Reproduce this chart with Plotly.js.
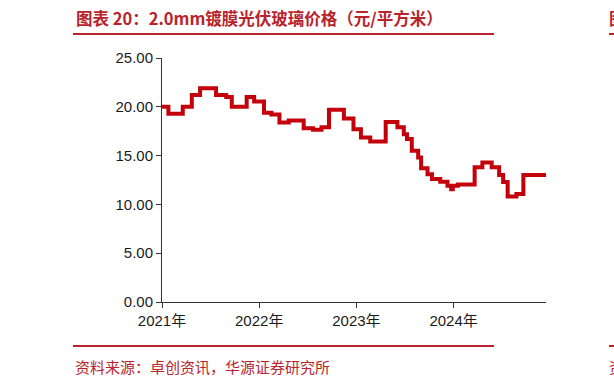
<!DOCTYPE html>
<html>
<head>
<meta charset="utf-8">
<script src="https://cdn.plot.ly/plotly-3.0.1.min.js"></script>
<style>
html,body{margin:0;padding:0;background:#fff;}
#chart{width:614px;height:385px;}
</style>
</head>
<body>
<div id="chart"></div>
<script>
// Price change dates (step series) and values, 元/平方米
const dates = [
  "2021-01-01","2021-01-25","2021-03-20","2021-04-23","2021-05-24","2021-07-23",
  "2021-08-30","2021-09-20","2021-11-15","2021-12-13","2022-01-19","2022-02-16",
  "2022-03-18","2022-04-22","2022-06-17","2022-07-22","2022-08-23","2022-09-20",
  "2022-11-15","2022-12-21","2023-01-18","2023-02-22","2023-04-21","2023-06-04",
  "2023-06-28","2023-07-10","2023-07-28","2023-08-21","2023-09-01","2023-09-25",
  "2023-10-12","2023-11-12","2023-12-09","2023-12-23","2023-12-29","2024-01-17",
  "2024-03-20","2024-04-18","2024-05-23","2024-06-20","2024-07-05","2024-07-22",
  "2024-08-24","2024-09-19","2024-12-13"
];
const prices = [
  20.0,19.3,20.0,21.2,21.9,21.2,
  21.0,20.0,21.0,20.55,19.4,19.2,
  18.4,18.6,17.8,17.65,17.9,19.7,
  18.8,17.7,16.85,16.45,18.45,17.9,
  17.2,16.7,15.5,14.8,13.7,13.1,
  12.6,12.33,11.9,11.55,11.9,12.05,
  13.8,14.3,13.8,13.0,12.3,10.8,
  11.07,13.0,13.0
];
const yearTicks = ["2021-01-01","2022-01-01","2023-01-01","2024-01-01"];
const yearLabels = ["2021年","2022年","2023年","2024年"];
const yTicks = [0,5,10,15,20,25];

const titleText = "图表 20：2.0mm镀膜光伏玻璃价格（元/平方米）";
const sourceText = "资料来源：卓创资讯，华源证券研究所";
const red = "#B8232C";

const trace = {
  x: dates, y: prices, type: "scatter", mode: "lines",
  line: {color: "#C4000A", width: 4, shape: "hv"},
  hoverinfo: "skip"
};

const layout = {
  width: 614, height: 385,
  margin: {l: 162, r: 68, t: 58, b: 83},
  paper_bgcolor: "#fff", plot_bgcolor: "#fff",
  showlegend: false,
  font: {family: "Liberation Sans, Arial, sans-serif", size: 15, color: "#1a1a1a"},
  xaxis: {
    type: "date",
    range: ["2021-01-01","2024-12-13"],
    tickvals: yearTicks, ticktext: yearLabels,
    ticks: "outside", ticklen: 5, tickcolor: "#333", tickwidth: 1,
    showline: true, linecolor: "#333", linewidth: 1,
    showgrid: false, zeroline: false,
    tickfont: {family: "Liberation Sans, Noto Sans CJK SC, sans-serif", size: 15, color: "#1a1a1a"}
  },
  yaxis: {
    range: [0, 25],
    tickvals: yTicks, tickformat: ".2f",
    ticks: "outside", ticklen: 5, tickcolor: "#333", tickwidth: 1,
    showline: true, linecolor: "#333", linewidth: 1,
    showgrid: false, zeroline: false,
    tickfont: {family: "Liberation Sans, Arial, sans-serif", size: 15, color: "#1a1a1a"}
  },
  shapes: [
    {type: "line", xsizemode: "pixel", ysizemode: "pixel", xref: "paper", yref: "paper",
     xanchor: 0, yanchor: 1, x0: -89, x1: 332, y0: 24, y1: 24, line: {color: red, width: 2}},
    {type: "line", xsizemode: "pixel", ysizemode: "pixel", xref: "paper", yref: "paper",
     xanchor: 0, yanchor: 0, x0: -89, x1: 332, y0: -44, y1: -44, line: {color: red, width: 2}},
    {type: "line", xsizemode: "pixel", ysizemode: "pixel", xref: "paper", yref: "paper",
     xanchor: 0, yanchor: 1, x0: 447, x1: 460, y0: 24, y1: 24, line: {color: red, width: 2}},
    {type: "line", xsizemode: "pixel", ysizemode: "pixel", xref: "paper", yref: "paper",
     xanchor: 0, yanchor: 0, x0: 447, x1: 460, y0: -44, y1: -44, line: {color: red, width: 2}}
  ],
  annotations: [
    {text: "<b>" + titleText + "</b>", xref: "paper", yref: "paper", x: -0.228, y: 1.0,
     xanchor: "left", yanchor: "bottom", yshift: 26, showarrow: false,
     font: {family: "Noto Sans CJK SC, sans-serif", size: 16.5, color: red}},
    {text: sourceText, xref: "paper", yref: "paper", x: -0.232, y: 0,
     xanchor: "left", yanchor: "top", yshift: -52, showarrow: false,
     font: {family: "Noto Sans CJK SC, sans-serif", size: 15, color: red}},
    {text: "<b>图</b>", xref: "paper", yref: "paper", x: 1.158, y: 1.0,
     xanchor: "left", yanchor: "bottom", yshift: 26, showarrow: false,
     font: {family: "Noto Sans CJK SC, sans-serif", size: 16.5, color: red}},
    {text: "资", xref: "paper", yref: "paper", x: 1.158, y: 0,
     xanchor: "left", yanchor: "top", yshift: -52, showarrow: false,
     font: {family: "Noto Sans CJK SC, sans-serif", size: 15, color: red}}
  ]
};

Plotly.newPlot("chart", [trace], layout, {displayModeBar: false, staticPlot: true});
</script>
</body>
</html>
